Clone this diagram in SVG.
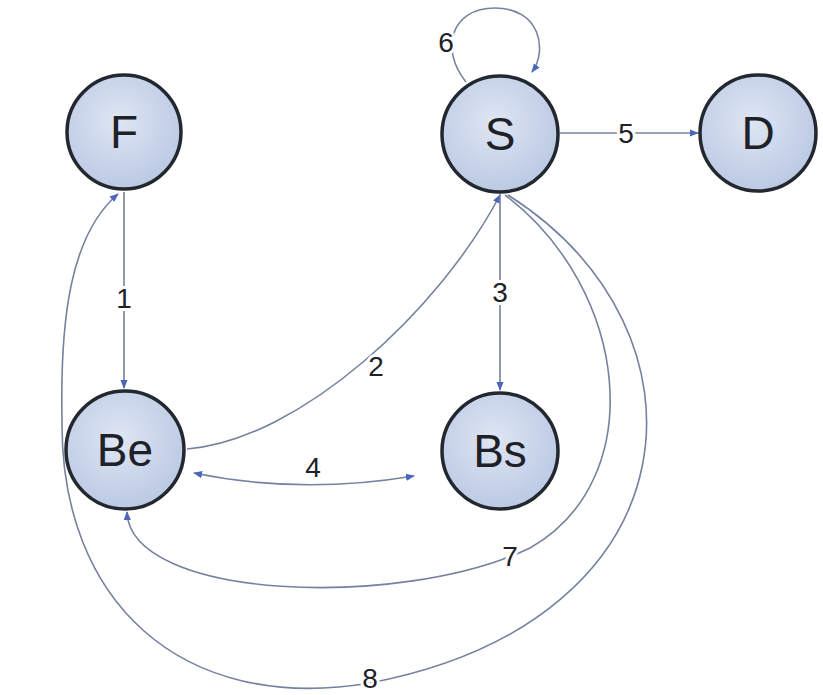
<svg xmlns="http://www.w3.org/2000/svg" width="823" height="695" viewBox="0 0 823 695">
<style>
.node{fill:url(#g);stroke:#23272f;stroke-width:3.5}
.nl{font-family:"Liberation Sans",Arial,sans-serif;font-size:46px;fill:#1e2128;text-anchor:middle;dominant-baseline:central}
.edge{fill:none;stroke:#7482a0;stroke-width:1.6}
.el{font-family:"Liberation Sans",Arial,sans-serif;font-size:28px;fill:#1e2128;text-anchor:middle;dominant-baseline:central;stroke:#ffffff;stroke-width:6;paint-order:stroke;stroke-linejoin:round}
</style>
<defs>
<radialGradient id="g" cx="0.45" cy="0.4" r="0.65">
<stop offset="0" stop-color="#dfe6f3"/>
<stop offset="1" stop-color="#b8c7e2"/>
</radialGradient>
<marker id="a" viewBox="0 0 10 10" refX="9" refY="5" markerWidth="9" markerHeight="9" markerUnits="userSpaceOnUse" orient="auto-start-reverse">
<path d="M0,1 L10,5 L0,9 z" fill="#4d66bd"/>
</marker>
</defs>
<rect width="823" height="695" fill="#ffffff"/>
<g id="connectors">
<path class="edge" d="M124,192 L124,388" marker-end="url(#a)"/>
<path class="edge" d="M187,449 C300,440 440,310 500,195" marker-end="url(#a)"/>
<path class="edge" d="M500,194 L500,390" marker-end="url(#a)"/>
<path class="edge" d="M194,473 Q300,495 414,476" marker-start="url(#a)" marker-end="url(#a)"/>
<path class="edge" d="M560,133 L698,133" marker-end="url(#a)"/>
<path class="edge" d="M466,82 C440,50 450,8 495,8 C540,8 548,50 532,72" marker-end="url(#a)"/>
<path class="edge" d="M505,195 C630,290 650,480 530,548 C400,610 130,600 127,512" marker-end="url(#a)"/>
<path class="edge" d="M508,195 C720,330 700,620 370,683 C180,715 60,600 62,420 C60,320 70,235 118,194" marker-end="url(#a)"/>
<text class="el" x="124" y="298">1</text>
<text class="el" x="376" y="366">2</text>
<text class="el" x="500" y="292">3</text>
<text class="el" x="313" y="467">4</text>
<text class="el" x="626" y="133">5</text>
<text class="el" x="446" y="42">6</text>
<text class="el" x="510" y="556">7</text>
<text class="el" x="370" y="678">8</text>
</g>
<g id="node-F"><circle class="node" cx="124" cy="132" r="57"/><text class="nl" x="124" y="132">F</text></g>
<g id="node-S"><circle class="node" cx="500" cy="134" r="58"/><text class="nl" x="500" y="134">S</text></g>
<g id="node-D"><circle class="node" cx="758" cy="133" r="58"/><text class="nl" x="758" y="133">D</text></g>
<g id="node-Be"><circle class="node" cx="125" cy="450" r="59"/><text class="nl" x="125" y="450">Be</text></g>
<g id="node-Bs"><circle class="node" cx="500" cy="451" r="58"/><text class="nl" x="500" y="451">Bs</text></g>
</svg>
